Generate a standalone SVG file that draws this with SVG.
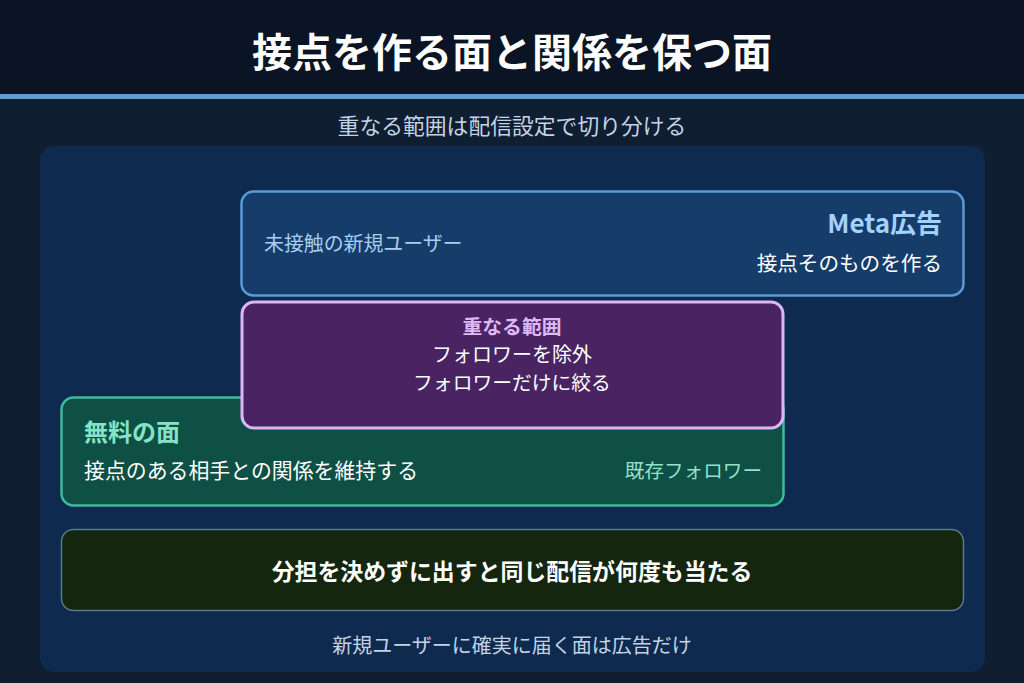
<svg xmlns="http://www.w3.org/2000/svg" width="1024" height="683" viewBox="0 0 1024 683">
<style>
text{font-family:"Noto Sans CJK JP","Noto Sans",sans-serif;}
.b{font-weight:700;}
.w{fill:#ffffff;}
.sub{fill:#c3d3e6;}
</style>
<rect x="0" y="0" width="1024" height="683" fill="#101e32"/>
<rect x="0" y="0" width="1024" height="95" fill="#0a1424"/>
<rect x="0" y="94" width="1024" height="5" fill="#5b9bd5"/>
<text x="512" y="67" text-anchor="middle" class="b w" font-size="40">接点を作る面と関係を保つ面</text>
<text x="512" y="134" text-anchor="middle" class="sub" font-size="21.8">重なる範囲は配信設定で切り分ける</text>
<rect x="40" y="146" width="945" height="526" rx="14" fill="#0e2a4e"/>
<g id="meta">
<rect x="241.5" y="191.5" width="722" height="104" rx="12" fill="#163d6a" stroke="#5b9bd5" stroke-width="2.5"/>
<text x="942" y="233" text-anchor="end" class="b" font-size="26" fill="#a3d2ff">Meta広告</text>
<text x="942" y="271" text-anchor="end" class="w" font-size="20.6">接点そのものを作る</text>
<text x="264" y="251" font-size="19.9" fill="#a9cdee">未接触の新規ユーザー</text>
</g>
<g id="free">
<rect x="61.5" y="397.5" width="722" height="108" rx="12" fill="#0e5045" stroke="#3cbc9c" stroke-width="2.5"/>
<text x="84" y="441" class="b" font-size="24" fill="#85e3c6">無料の面</text>
<text x="84" y="478" class="w" font-size="20.9">接点のある相手との関係を維持する</text>
<text x="762" y="478" text-anchor="end" font-size="19.6" fill="#94e0c9">既存フォロワー</text>
</g>
<g id="overlap">
<rect x="242" y="302" width="541" height="126" rx="12" fill="#4a2462" stroke="#dbb6f3" stroke-width="3"/>
<text x="512" y="334" text-anchor="middle" class="b" font-size="19.8" fill="#ddb9f5">重なる範囲</text>
<text x="512" y="362" text-anchor="middle" class="w" font-size="20">フォロワーを除外</text>
<text x="512" y="390" text-anchor="middle" class="w" font-size="19.8">フォロワーだけに絞る</text>
</g>
<g id="warning">
<rect x="61.5" y="529.5" width="902" height="81" rx="12" fill="#15260f" stroke="#587a8e" stroke-width="1.5"/>
<text x="512" y="580" text-anchor="middle" class="b w" font-size="22.9">分担を決めずに出すと同じ配信が何度も当たる</text>
</g>
<g id="connectors"></g>
<text x="512" y="653" text-anchor="middle" class="sub" font-size="20">新規ユーザーに確実に届く面は広告だけ</text>
</svg>
